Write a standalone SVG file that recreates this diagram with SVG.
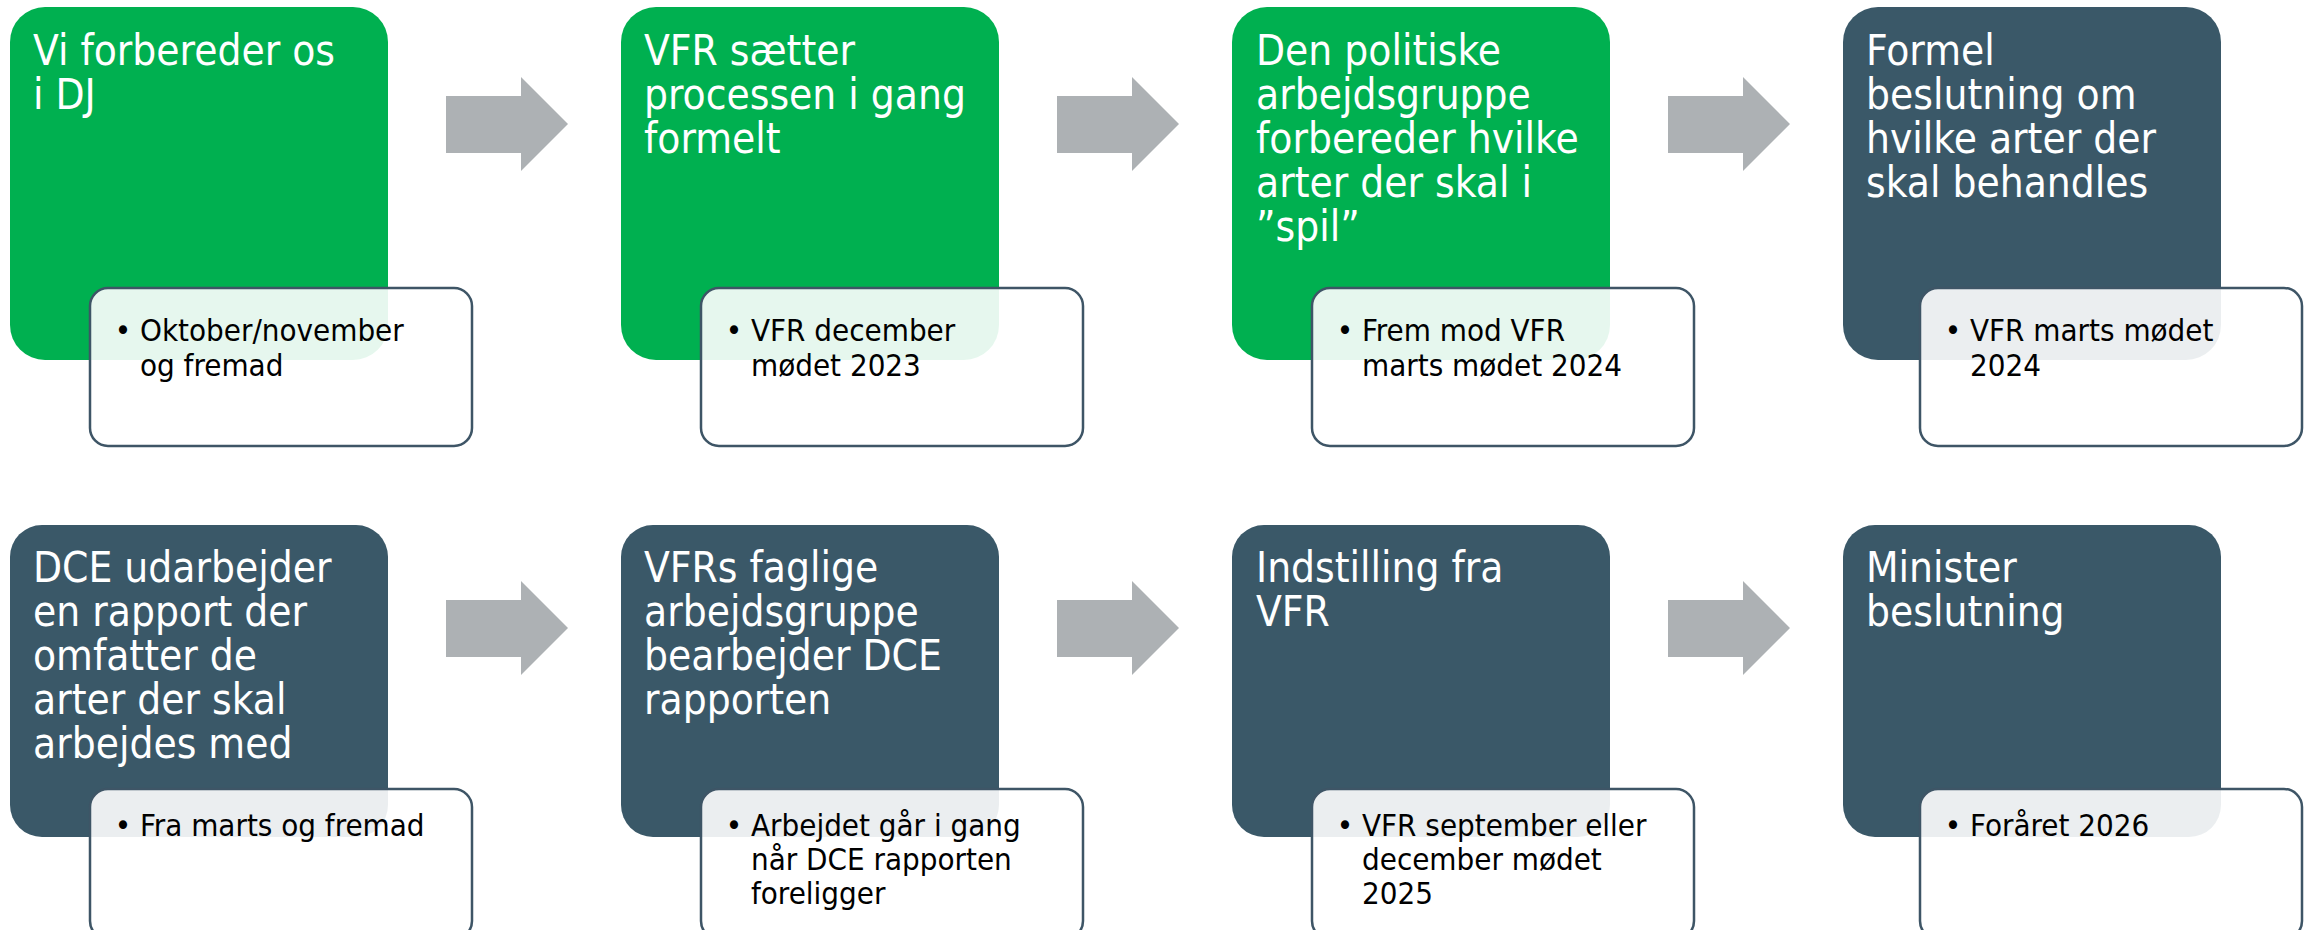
<svg xmlns="http://www.w3.org/2000/svg" width="2313" height="930" viewBox="0 0 2313 930">
<style>
.green{fill:#00B050}
.dark{fill:#3A5868}
.sub{fill:#FFFFFF;fill-opacity:0.9;stroke:#3E5566;stroke-width:2.5}
.arrow{fill:#ADB1B4}
.title{font-family:"DejaVu Sans Condensed","DejaVu Sans",sans-serif;font-stretch:condensed;font-size:42px;fill:#FFFFFF}
.txt{font-family:"DejaVu Sans Condensed","DejaVu Sans",sans-serif;font-stretch:condensed;font-size:31px;fill:#000000}
</style>
<rect width="2313" height="930" fill="#FFFFFF"/>
<g id="connectors">
<path class="arrow" d="M446,96 H521 V77 L568,124 L521,171 V153 H446 Z"/>
<path class="arrow" d="M1057,96 H1132 V77 L1179,124 L1132,171 V153 H1057 Z"/>
<path class="arrow" d="M1668,96 H1743 V77 L1790,124 L1743,171 V153 H1668 Z"/>
<path class="arrow" d="M446,600 H521 V581 L568,628 L521,675 V657 H446 Z"/>
<path class="arrow" d="M1057,600 H1132 V581 L1179,628 L1132,675 V657 H1057 Z"/>
<path class="arrow" d="M1668,600 H1743 V581 L1790,628 L1743,675 V657 H1668 Z"/>
</g>
<g id="node1">
<rect class="green" x="10" y="7" width="378" height="353" rx="35"/>
<text class="title" x="33" y="65">Vi forbereder os<tspan x="33" dy="44">i DJ</tspan></text>
<rect class="sub" x="90" y="288" width="382" height="158" rx="18"/>
<text class="txt" x="123" y="341" text-anchor="middle">•</text>
<text class="txt" x="140" y="341">Oktober/november<tspan x="140" dy="35">og fremad</tspan></text>
</g>
<g id="node2">
<rect class="green" x="621" y="7" width="378" height="353" rx="35"/>
<text class="title" x="644" y="65">VFR sætter<tspan x="644" dy="44">processen i gang</tspan><tspan x="644" dy="44">formelt</tspan></text>
<rect class="sub" x="701" y="288" width="382" height="158" rx="18"/>
<text class="txt" x="734" y="341" text-anchor="middle">•</text>
<text class="txt" x="751" y="341">VFR december<tspan x="751" dy="35">mødet 2023</tspan></text>
</g>
<g id="node3">
<rect class="green" x="1232" y="7" width="378" height="353" rx="35"/>
<text class="title" x="1256" y="65">Den politiske<tspan x="1256" dy="44">arbejdsgruppe</tspan><tspan x="1256" dy="44">forbereder hvilke</tspan><tspan x="1256" dy="44">arter der skal i</tspan><tspan x="1256" dy="44">”spil”</tspan></text>
<rect class="sub" x="1312" y="288" width="382" height="158" rx="18"/>
<text class="txt" x="1345" y="341" text-anchor="middle">•</text>
<text class="txt" x="1362" y="341">Frem mod VFR<tspan x="1362" dy="35">marts mødet 2024</tspan></text>
</g>
<g id="node4">
<rect class="dark" x="1843" y="7" width="378" height="353" rx="35"/>
<text class="title" x="1866" y="65">Formel<tspan x="1866" dy="44">beslutning om</tspan><tspan x="1866" dy="44">hvilke arter der</tspan><tspan x="1866" dy="44">skal behandles</tspan></text>
<rect class="sub" x="1920" y="288" width="382" height="158" rx="18"/>
<text class="txt" x="1953" y="341" text-anchor="middle">•</text>
<text class="txt" x="1970" y="341">VFR marts mødet<tspan x="1970" dy="35">2024</tspan></text>
</g>
<g id="node5">
<rect class="dark" x="10" y="525" width="378" height="312" rx="32"/>
<text class="title" x="33" y="582">DCE udarbejder<tspan x="33" dy="44">en rapport der</tspan><tspan x="33" dy="44">omfatter de</tspan><tspan x="33" dy="44">arter der skal</tspan><tspan x="33" dy="44">arbejdes med</tspan></text>
<rect class="sub" x="90" y="789" width="382" height="150" rx="18"/>
<text class="txt" x="123" y="836" text-anchor="middle">•</text>
<text class="txt" x="140" y="836">Fra marts og fremad</text>
</g>
<g id="node6">
<rect class="dark" x="621" y="525" width="378" height="312" rx="32"/>
<text class="title" x="644" y="582">VFRs faglige<tspan x="644" dy="44">arbejdsgruppe</tspan><tspan x="644" dy="44">bearbejder DCE</tspan><tspan x="644" dy="44">rapporten</tspan></text>
<rect class="sub" x="701" y="789" width="382" height="150" rx="18"/>
<text class="txt" x="734" y="836" text-anchor="middle">•</text>
<text class="txt" x="751" y="836">Arbejdet går i gang<tspan x="751" dy="34">når DCE rapporten</tspan><tspan x="751" dy="34">foreligger</tspan></text>
</g>
<g id="node7">
<rect class="dark" x="1232" y="525" width="378" height="312" rx="32"/>
<text class="title" x="1256" y="582">Indstilling fra<tspan x="1256" dy="44">VFR</tspan></text>
<rect class="sub" x="1312" y="789" width="382" height="150" rx="18"/>
<text class="txt" x="1345" y="836" text-anchor="middle">•</text>
<text class="txt" x="1362" y="836">VFR september eller<tspan x="1362" dy="34">december mødet</tspan><tspan x="1362" dy="34">2025</tspan></text>
</g>
<g id="node8">
<rect class="dark" x="1843" y="525" width="378" height="312" rx="32"/>
<text class="title" x="1866" y="582">Minister<tspan x="1866" dy="44">beslutning</tspan></text>
<rect class="sub" x="1920" y="789" width="382" height="150" rx="18"/>
<text class="txt" x="1953" y="836" text-anchor="middle">•</text>
<text class="txt" x="1970" y="836">Foråret 2026</text>
</g>
</svg>
